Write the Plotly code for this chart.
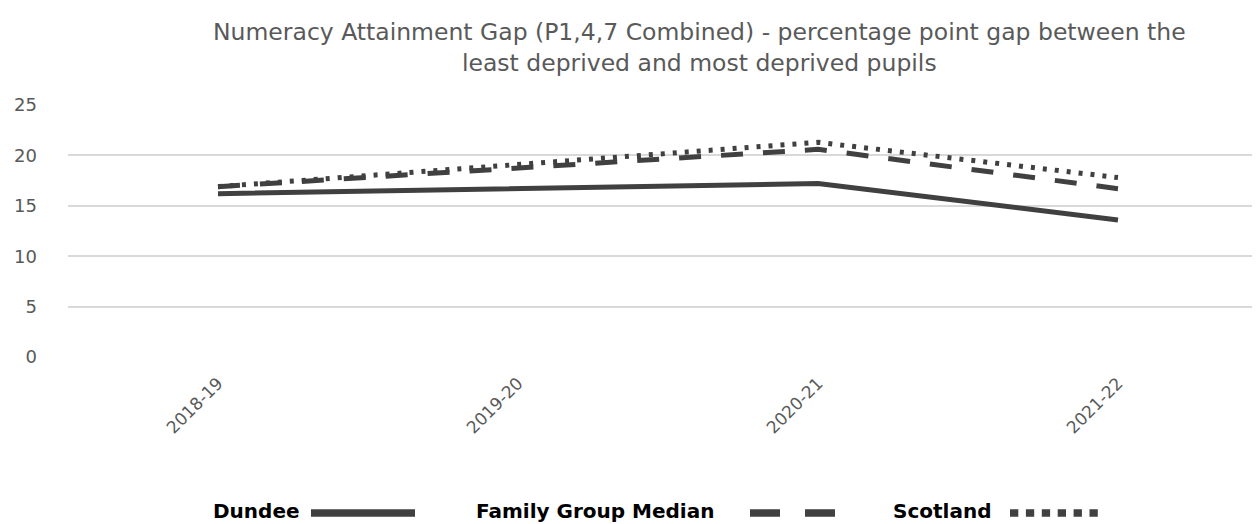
import plotly.graph_objects as go

years = ["2018-19", "2019-20", "2020-21", "2021-22"]
dundee = [16.2, None, 17.2, 13.6]
family_group_median = [16.9, None, 20.6, 16.7]
scotland = [16.9, None, 21.3, 17.8]
series_names = ["Dundee", "Family Group Median", "Scotland"]
y_ticks = [0, 5, 10, 15, 20, 25]

title_text = ("Numeracy Attainment Gap (P1,4,7 Combined) - percentage point gap between the<br>"
              "least deprived and most deprived pupils")

W, H = 1260, 524
ML, MR, MT, MB = 60, 0, 97, 175

line_color = "#404040"
styles = [
    dict(color=line_color, width=5, dash="solid"),
    dict(color=line_color, width=5, dash="22px,20px"),
    dict(color=line_color, width=5, dash="4px,8px"),
]

fig = go.Figure()
for name, vals, st in zip(series_names, [dundee, family_group_median, scotland], styles):
    fig.add_trace(go.Scatter(x=years, y=vals, mode="lines", name=name,
                             line=st, connectgaps=True, showlegend=False))

fig.update_layout(
    width=W, height=H,
    margin=dict(l=ML, r=MR, t=MT, b=MB),
    paper_bgcolor="white", plot_bgcolor="white",
    font=dict(family="DejaVu Sans, sans-serif", color="#595959"),
)
fig.update_xaxes(
    type="category", range=[-0.5, 3.5], showgrid=False, zeroline=False, showline=False,
    tickangle=-45, tickfont=dict(family="DejaVu Sans, sans-serif", size=17, color="#595959"),
    ticklabelstandoff=12,
)
fig.update_yaxes(
    range=[0, 25], tickvals=y_ticks, showgrid=True, gridcolor="#d9d9d9", gridwidth=1.5,
    zeroline=False, showline=False,
    tickfont=dict(family="DejaVu Sans, sans-serif", size=18, color="#595959"),
    ticklabelstandoff=30,
)

def px2paper_x(px):
    return (px - ML) / (W - ML - MR)

def px2paper_y(py):
    return (H - MB - py) / (H - MT - MB)

fig.add_annotation(text=title_text, x=px2paper_x(692), y=px2paper_y(40), xref="paper", yref="paper",
                   xanchor="center", yanchor="middle", showarrow=False,
                   font=dict(family="DejaVu Sans, sans-serif", size=23.5, color="#595959"))

# Custom legend (text followed by line sample)
legend_items = [
    (series_names[0], 203, 303, 407, "solid"),
    (series_names[1], 466, 742, 827, "30px,25px"),
    (series_names[2], 883, 1002, 1090, "8.3px,7.6px"),
]
for name, tx, lx0, lx1, dash in legend_items:
    fig.add_annotation(text="<b>" + name + "</b>", x=px2paper_x(tx), y=px2paper_y(503),
                       xref="paper", yref="paper", xanchor="left", yanchor="middle", showarrow=False,
                       font=dict(family="DejaVu Sans, sans-serif", size=20, color="#000000"))
    fig.add_shape(type="line", xref="paper", yref="paper",
                  x0=px2paper_x(lx0), x1=px2paper_x(lx1), y0=px2paper_y(505), y1=px2paper_y(505),
                  line=dict(color=line_color, width=7.5, dash=dash))

fig.write_html("out.html")
